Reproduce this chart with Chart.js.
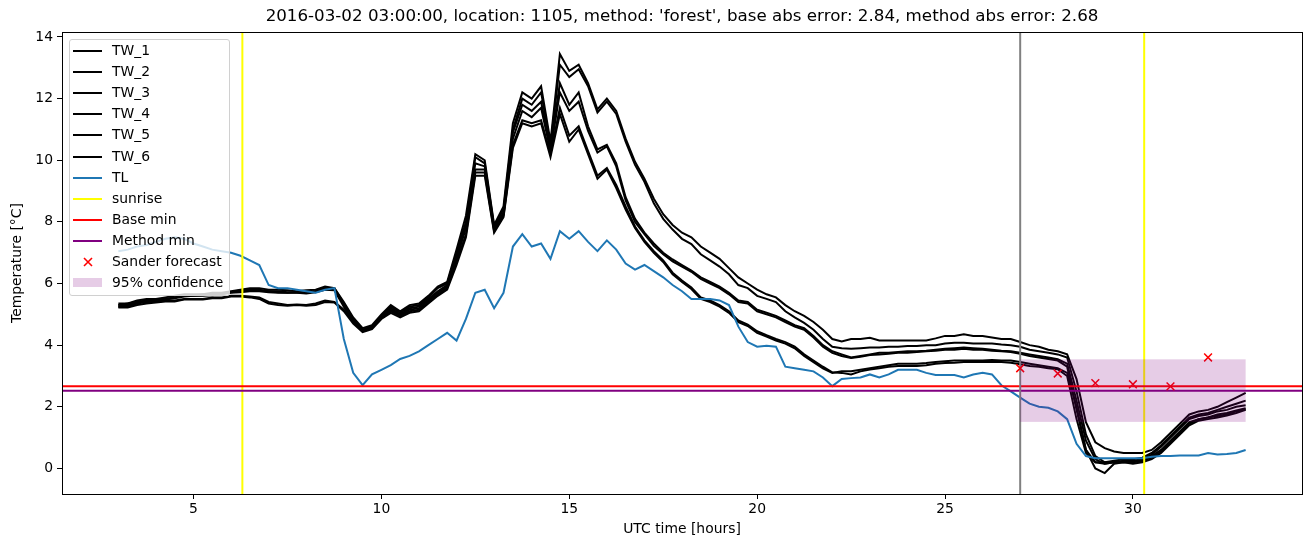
<!DOCTYPE html>
<html><head><meta charset="utf-8">
<script src="https://cdn.jsdelivr.net/npm/chart.js@4"></script>
<style>
body{margin:0;background:#fff;}
#wrap{position:relative;width:1310px;height:547px;}
#legend{position:absolute;left:69px;top:39px;width:161px;height:257px;box-sizing:border-box;border:1px solid #d0d0d0;border-radius:3px;background:rgba(255,255,255,0.8);font-family:'DejaVu Sans';font-size:13.9px;color:#000;}
.row{position:absolute;left:0;height:21px;width:100%;}
.h{position:absolute;left:3px;width:29px;top:10px;height:2px;}
.p{position:absolute;left:3px;width:29px;top:6px;height:9px;}
.m{position:absolute;left:13px;top:6px;}
.t{position:absolute;left:42px;top:0;line-height:21px;white-space:nowrap;}
</style></head><body>
<div id="wrap"><canvas id="c" width="1310" height="547"></canvas><div id="legend"></div></div>
<script>
const hours = Array.from({length:121},(_,i)=>3+i*0.25);

const TL = [
7.05,7.1,7.2,7.25,7.35,7.45,7.5,7.45,
7.3,7.2,7.1,7.05,7.0,6.9,6.75,6.6,
5.95,5.85,5.85,5.8,5.75,5.7,5.8,5.85,
4.2,3.1,2.7,3.05,3.2,3.35,3.55,3.65,
3.8,4.0,4.2,4.4,4.15,4.85,5.7,5.8,
5.2,5.7,7.2,7.6,7.2,7.3,6.8,7.7,
7.45,7.7,7.35,7.05,7.4,7.1,6.65,6.45,
6.6,6.4,6.2,5.95,5.75,5.5,5.5,5.5,
5.45,5.3,4.6,4.1,3.95,3.98,3.95,3.3,
3.25,3.2,3.15,2.95,2.67,2.9,2.93,2.95,
3.05,2.95,3.05,3.2,3.2,3.2,3.1,3.03,
3.03,3.03,2.95,3.05,3.1,3.05,2.7,2.5,
2.3,2.1,2.0,1.97,1.85,1.6,0.8,0.4,
0.33,0.33,0.33,0.33,0.33,0.33,0.38,0.4,
0.4,0.42,0.42,0.42,0.5,0.45,0.47,0.5,
0.6];

const TW_1 = [
5.35,5.35,5.45,5.5,5.5,5.55,5.6,5.65,
5.65,5.65,5.7,5.7,5.75,5.8,5.85,5.85,
5.8,5.8,5.78,5.75,5.78,5.8,5.9,5.85,
5.4,4.9,4.55,4.65,5.0,5.3,5.1,5.3,
5.35,5.6,5.9,6.05,7.1,8.2,10.2,10.0,
7.9,8.5,11.2,12.2,12.0,12.4,10.6,13.45,
12.9,13.1,12.5,11.65,12.0,11.6,10.7,9.95,
9.4,8.75,8.25,7.9,7.65,7.5,7.2,7.0,
6.8,6.5,6.2,6.0,5.8,5.65,5.55,5.3,
5.1,4.95,4.75,4.5,4.2,4.12,4.2,4.2,
4.24,4.15,4.15,4.15,4.15,4.15,4.15,4.22,
4.3,4.3,4.35,4.3,4.3,4.25,4.2,4.2,
4.1,4.0,3.95,3.85,3.8,3.7,2.9,1.5,
0.85,0.66,0.55,0.5,0.5,0.5,0.6,0.85,
1.15,1.45,1.75,1.85,1.9,2.0,2.15,2.3,
2.45];

const TW_2 = [
5.3,5.3,5.4,5.45,5.45,5.5,5.55,5.6,
5.6,5.62,5.65,5.65,5.72,5.78,5.8,5.8,
5.75,5.75,5.72,5.72,5.7,5.75,5.85,5.85,
5.35,4.85,4.5,4.6,4.95,5.25,5.05,5.25,
5.3,5.55,5.85,6.0,7.0,8.0,10.1,9.9,
7.85,8.4,11.0,12.0,11.8,12.2,10.5,13.1,
12.7,12.95,12.4,11.55,11.9,11.5,10.6,9.85,
9.3,8.6,8.1,7.75,7.45,7.28,6.95,6.75,
6.55,6.3,5.95,5.85,5.6,5.5,5.4,5.1,
4.9,4.72,4.5,4.2,3.95,3.9,3.88,3.9,
3.92,3.92,3.95,3.95,3.97,3.97,4.0,4.0,
4.05,4.08,4.08,4.05,4.05,4.05,4.02,4.0,
3.95,3.85,3.8,3.75,3.7,3.6,2.5,1.1,
0.4,0.2,0.25,0.3,0.3,0.35,0.5,0.75,
1.05,1.35,1.65,1.75,1.8,1.9,2.0,2.1,
2.2];

const TW_3 = [
5.3,5.35,5.4,5.45,5.5,5.5,5.55,5.6,
5.62,5.65,5.65,5.68,5.72,5.75,5.8,5.78,
5.75,5.72,5.7,5.72,5.7,5.75,5.85,5.8,
5.3,4.8,4.5,4.6,4.95,5.2,5.0,5.2,
5.25,5.5,5.75,5.95,6.9,7.9,9.9,9.8,
7.8,8.3,10.9,11.8,11.6,11.9,10.4,12.5,
11.8,12.2,11.1,10.35,10.5,9.9,8.8,8.1,
7.65,7.3,7.0,6.78,6.6,6.42,6.2,6.05,
5.9,5.7,5.45,5.4,5.15,5.05,4.95,4.8,
4.65,4.55,4.3,4.0,3.8,3.7,3.6,3.65,
3.7,3.75,3.75,3.78,3.8,3.8,3.82,3.85,
3.88,3.9,3.92,3.9,3.88,3.85,3.82,3.8,
3.75,3.7,3.65,3.6,3.54,3.4,2.2,0.9,
0.3,0.15,0.2,0.25,0.25,0.3,0.45,0.7,
1.0,1.3,1.6,1.7,1.75,1.85,1.9,2.0,
2.05];

const TW_4 = [
5.25,5.3,5.38,5.42,5.45,5.48,5.52,5.58,
5.6,5.6,5.62,5.65,5.7,5.72,5.75,5.75,
5.72,5.7,5.7,5.7,5.68,5.72,5.8,5.78,
5.25,4.75,4.48,4.58,4.9,5.15,4.98,5.15,
5.2,5.45,5.7,5.9,6.8,7.8,9.7,9.7,
7.75,8.25,10.7,11.6,11.4,11.7,10.3,12.2,
11.6,11.9,10.95,10.25,10.45,9.8,8.7,8.0,
7.6,7.22,6.95,6.72,6.55,6.38,6.15,6.0,
5.85,5.65,5.4,5.35,5.1,5.0,4.9,4.75,
4.6,4.5,4.25,3.95,3.75,3.65,3.58,3.62,
3.68,3.7,3.72,3.75,3.75,3.78,3.8,3.82,
3.85,3.85,3.88,3.85,3.85,3.82,3.8,3.78,
3.72,3.65,3.6,3.55,3.5,3.3,1.9,0.6,
0.2,0.15,0.2,0.2,0.22,0.25,0.4,0.6,
0.9,1.2,1.5,1.6,1.65,1.75,1.8,1.88,
1.95];

const TW_5 = [
5.25,5.25,5.35,5.4,5.4,5.45,5.45,5.5,
5.5,5.5,5.55,5.55,5.6,5.6,5.58,5.55,
5.4,5.35,5.3,5.32,5.3,5.35,5.45,5.4,
5.15,4.75,4.45,4.55,4.88,5.1,4.95,5.1,
5.15,5.4,5.65,5.85,6.7,7.6,9.6,9.6,
7.7,8.2,10.5,11.3,11.2,11.3,10.2,11.7,
10.8,11.1,10.3,9.5,9.75,9.2,8.5,7.85,
7.4,7.05,6.75,6.35,6.1,5.87,5.55,5.45,
5.3,5.1,4.8,4.67,4.45,4.32,4.2,4.1,
3.95,3.7,3.5,3.3,3.12,3.1,3.05,3.15,
3.21,3.25,3.3,3.32,3.32,3.32,3.35,3.4,
3.42,3.43,3.45,3.45,3.45,3.45,3.45,3.43,
3.38,3.32,3.3,3.25,3.22,3.0,1.6,0.5,
0.2,0.2,0.2,0.2,0.2,0.25,0.35,0.55,
0.85,1.15,1.45,1.6,1.65,1.7,1.75,1.85,
1.92];

const TW_6 = [
5.22,5.22,5.3,5.35,5.38,5.42,5.42,5.48,
5.48,5.48,5.52,5.52,5.58,5.58,5.55,5.5,
5.35,5.3,5.28,5.3,5.28,5.3,5.4,5.38,
5.1,4.7,4.42,4.52,4.85,5.05,4.9,5.05,
5.1,5.35,5.6,5.8,6.6,7.5,9.5,9.5,
7.65,8.15,10.4,11.2,11.1,11.2,10.1,11.5,
10.6,11.0,10.2,9.4,9.7,9.1,8.4,7.8,
7.35,7.0,6.7,6.3,6.05,5.82,5.5,5.4,
5.25,5.05,4.75,4.62,4.4,4.28,4.15,4.05,
3.9,3.65,3.45,3.25,3.1,3.15,3.15,3.2,
3.25,3.3,3.35,3.4,3.4,3.4,3.42,3.45,
3.48,3.5,3.5,3.5,3.5,3.52,3.5,3.5,
3.45,3.4,3.35,3.3,3.25,3.1,2.0,0.6,
0.0,-0.15,0.15,0.2,0.15,0.2,0.3,0.5,
0.8,1.1,1.4,1.55,1.6,1.65,1.72,1.8,
1.9];

const sunriseHours = [6.30, 30.30];
const forecastHours = [27.0];
const baseMin = [2.67];
const methodMin = [2.52];
const sanderHours = [27, 28, 29, 30, 31, 32];
const sanderValues = [3.25, 3.08, 2.77, 2.73, 2.66, 3.6];
const confHours = [27, 33];
const confRange = [1.51, 3.54];
const xTicks = [5, 10, 15, 20, 25, 30];
const yTicks = [0, 2, 4, 6, 8, 10, 12, 14];
const titleText = "2016-03-02 03:00:00, location: 1105, method: 'forest', base abs error: 2.84, method abs error: 2.68";

const twSeries = [['TW_1',TW_1],['TW_2',TW_2],['TW_3',TW_3],['TW_4',TW_4],['TW_5',TW_5],['TW_6',TW_6]];
const pts = arr => hours.map((h,i)=>({x:h,y:arr[i]}));

const datasets = [
  {label:'Sander forecast', type:'scatter', data: sanderHours.map((h,i)=>({x:h,y:sanderValues[i]})),
   pointStyle:'crossRot', pointRadius:5.5, pointBorderColor:'#ff0000', pointBorderWidth:1.5, borderColor:'#ff0000', backgroundColor:'#ff0000', showLine:false, order:0},
  {label:'TL', data: pts(TL), borderColor:'#1f77b4', borderWidth:2, pointRadius:0, tension:0, order:1},
  ...twSeries.map(([n,a])=>({label:n, data: pts(a), borderColor:'#000000', borderWidth:2, pointRadius:0, tension:0, order:2}))
];

Chart.defaults.font.family = "'DejaVu Sans'";
Chart.defaults.color = '#000';

const overlay = {
  id:'overlay',
  afterLayout(chart){
    const t = chart.titleBlock;
    if (t) { t.left = chart.chartArea.left; t.right = chart.chartArea.right; }
  },
  afterDatasetDraw(chart, args){
    if (chart.data.datasets[args.index].label !== 'TL') return;
    const {ctx, chartArea:a, scales:{x, y}} = chart;
    ctx.save();
    ctx.beginPath(); ctx.rect(a.left, a.top, a.width, a.height); ctx.clip();
    ctx.lineWidth = 2;
    const vline = (v, c) => { const p = x.getPixelForValue(v); ctx.strokeStyle = c; ctx.beginPath(); ctx.moveTo(p, a.top); ctx.lineTo(p, a.bottom); ctx.stroke(); };
    const hline = (v, c) => { const p = y.getPixelForValue(v); ctx.strokeStyle = c; ctx.beginPath(); ctx.moveTo(a.left, p); ctx.lineTo(a.right, p); ctx.stroke(); };
    sunriseHours.forEach(h => vline(h, '#ffff00'));
    baseMin.forEach(v => hline(v, '#ff0000'));
    methodMin.forEach(v => hline(v, '#800080'));
    forecastHours.forEach(h => vline(h, '#808080'));
    ctx.restore();
  },
  afterDatasetsDraw(chart){
    const {ctx, chartArea:a, scales:{x, y}} = chart;
    ctx.save();
    const x0 = x.getPixelForValue(confHours[0]), x1 = x.getPixelForValue(confHours[1]);
    const y0 = y.getPixelForValue(confRange[1]), y1 = y.getPixelForValue(confRange[0]);
    ctx.fillStyle = 'rgba(128,0,128,0.2)';
    ctx.fillRect(x0, y0, x1 - x0, y1 - y0);
    ctx.strokeStyle = '#000'; ctx.lineWidth = 1;
    ctx.strokeRect(Math.round(a.left) + 0.5, Math.round(a.top) + 0.5, Math.round(a.width), Math.round(a.height));
    ctx.restore();
  }
};

new Chart(document.getElementById('c'), {
  type:'line',
  data:{datasets},
  options:{
    responsive:false, devicePixelRatio:1, animation:false, events:[],
    layout:{padding:{left:0, right:8, top:0, bottom:0}},
    plugins:{
      legend:{display:false}, tooltip:{enabled:false},
      title:{display:true, text:titleText, color:'#000', font:{size:16.7, weight:'normal'}, padding:{top:7, bottom:5}}
    },
    scales:{
      x:{type:'linear', min:1.5, max:34.5,
         afterBuildTicks(s){ s.ticks = xTicks.map(v=>({value:v})); },
         afterFit(s){ s.height = 53; },
         ticks:{font:{size:13.9}, color:'#000', padding:2, maxRotation:0},
         grid:{drawOnChartArea:false, drawTicks:true, tickLength:5, tickColor:'#000', tickWidth:1},
         border:{display:true, color:'#000', width:1},
         title:{display:true, text:'UTC time [hours]', font:{size:13.9}, color:'#000', padding:{top:0, bottom:9.7}}},
      y:{type:'linear', min:-0.83, max:14.16,
         afterBuildTicks(s){ s.ticks = yTicks.map(v=>({value:v})); },
         afterFit(s){ s.width = 62; },
         ticks:{font:{size:13.9}, color:'#000', padding:4},
         grid:{drawOnChartArea:false, drawTicks:true, tickLength:5, tickColor:'#000', tickWidth:1},
         border:{display:true, color:'#000', width:1},
         title:{display:true, text:'Temperature [°C]', font:{size:13.9}, color:'#000', padding:{top:8.7, bottom:0}}}
    }
  },
  plugins:[overlay]
});

// legend (matplotlib-style box inside the axes)
const legendItems = [
  ...twSeries.map(([n])=>({label:n, kind:'line', color:'#000'})),
  {label:'TL', kind:'line', color:'#1f77b4'},
  {label:'sunrise', kind:'line', color:'#ffff00'},
  {label:'Base min', kind:'line', color:'#ff0000'},
  {label:'Method min', kind:'line', color:'#800080'},
  {label:'Sander forecast', kind:'x', color:'#ff0000'},
  {label:'95% confidence', kind:'patch', color:'rgba(128,0,128,0.2)'}
];
const lg = document.getElementById('legend');
legendItems.forEach((it, i) => {
  const r = document.createElement('div');
  r.className = 'row';
  r.style.top = (0 + i * 21.1) + 'px';
  let handle;
  if (it.kind === 'line') handle = `<div class="h" style="background:${it.color}"></div>`;
  else if (it.kind === 'patch') handle = `<div class="p" style="background:${it.color}"></div>`;
  else handle = `<svg class="m" width="10" height="10"><path d="M1 1L9 9M9 1L1 9" stroke="${it.color}" stroke-width="1.6"/></svg>`;
  r.innerHTML = handle + `<span class="t">${it.label}</span>`;
  lg.appendChild(r);
});
</script>
</body></html>
